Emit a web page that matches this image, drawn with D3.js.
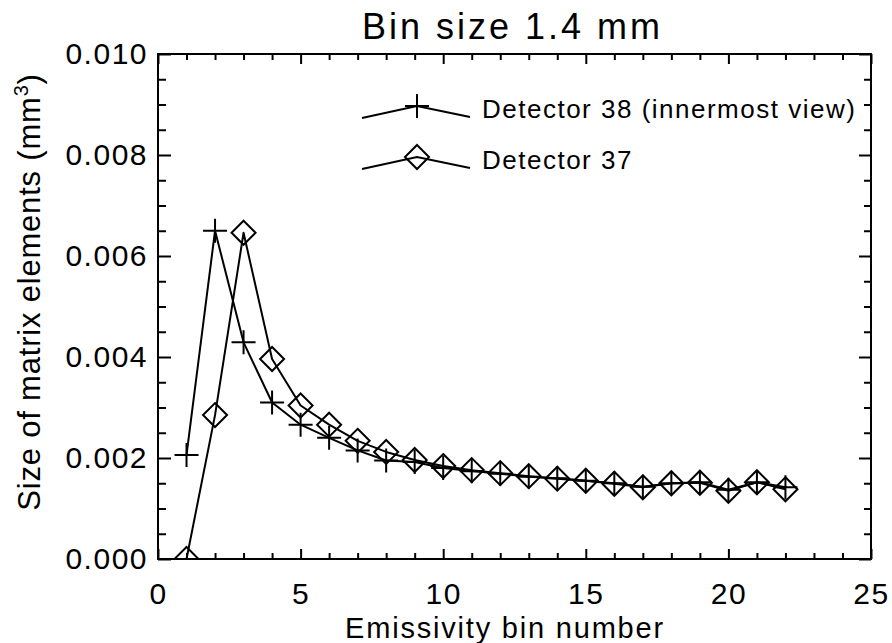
<!DOCTYPE html>
<html>
<head>
<meta charset="utf-8">
<script src="https://cdn.jsdelivr.net/npm/d3@7"></script>
<style>
  body { margin: 0; background: #fff; }
  svg text { font-family: "Liberation Sans", Arial, sans-serif; fill: #000; }
</style>
</head>
<body>
<div id="chart"></div>
<script>
// 1: DATA
const binNumber = [1, 2, 3, 4, 5, 6, 7, 8, 9, 10, 11, 12, 13, 14, 15, 16, 17, 18, 19, 20, 21, 22];
const det38 = [0.00206, 0.0065, 0.00429, 0.0031, 0.00266, 0.0024, 0.00215, 0.00195, 0.00192, 0.0018, 0.00174,
               0.00169, 0.00163, 0.0016, 0.00155, 0.0015, 0.00143, 0.0015, 0.00152, 0.00137, 0.00152, 0.00142];
const det37 = [0.0, 0.00285, 0.00646, 0.00396, 0.00304, 0.00266, 0.00234, 0.00212, 0.00196, 0.00184, 0.00176,
               0.0017, 0.00164, 0.00159, 0.00155, 0.00149, 0.00142, 0.0015, 0.00151, 0.00135, 0.00152, 0.00138];
const seriesNames = ["Detector 38 (innermost view)", "Detector 37"];
const xTicks = [0, 5, 10, 15, 20, 25];
const yTicks = [0, 0.002, 0.004, 0.006, 0.008, 0.010];

// 2: LAYOUT
const W = 892, H = 643;
const plot = { left: 158, right: 871, top: 54, bottom: 559 };

const svg = d3.select("#chart").append("svg")
    .attr("width", W)
    .attr("height", H);

const x = d3.scaleLinear().domain([0, 25]).range([plot.left, plot.right]);
const y = d3.scaleLinear().domain([0, 0.010]).range([plot.bottom, plot.top]);

const xMinor = d3.range(0, 26, 1).filter(v => v % 5 !== 0);
const yMinor = d3.range(0, 0.0101, 0.0005).filter((v, i) => i % 4 !== 0);

// 3: AXES (ticks inward on all four sides)
function styleAxis(g) {
    g.select(".domain").remove();
    g.selectAll(".tick line").attr("stroke", "#000").attr("stroke-width", 2);
}

// bottom
svg.append("g")
    .attr("transform", `translate(0,${plot.bottom})`)
    .call(d3.axisBottom(x).tickValues(xTicks).tickSize(-10).tickPadding(24).tickFormat(d3.format("d")))
    .call(styleAxis)
    .call(g => g.selectAll("text")
        .attr("font-size", 30)
        .attr("letter-spacing", 1.5)
        .attr("font-family", "Liberation Sans, Arial, sans-serif"));
svg.append("g")
    .attr("transform", `translate(0,${plot.bottom})`)
    .call(d3.axisBottom(x).tickValues(xMinor).tickSize(-6).tickFormat(""))
    .call(styleAxis);

// top
svg.append("g")
    .attr("transform", `translate(0,${plot.top})`)
    .call(d3.axisTop(x).tickValues(xTicks).tickSize(-10).tickFormat(""))
    .call(styleAxis);
svg.append("g")
    .attr("transform", `translate(0,${plot.top})`)
    .call(d3.axisTop(x).tickValues(xMinor).tickSize(-6).tickFormat(""))
    .call(styleAxis);

// left
svg.append("g")
    .attr("transform", `translate(${plot.left},0)`)
    .call(d3.axisLeft(y).tickValues(yTicks).tickSize(-13).tickPadding(10).tickFormat(d3.format(".3f")))
    .call(styleAxis)
    .call(g => g.selectAll("text")
        .attr("font-size", 30)
        .attr("letter-spacing", 1.5)
        .attr("dy", "0.30em")
        .attr("font-family", "Liberation Sans, Arial, sans-serif"));
svg.append("g")
    .attr("transform", `translate(${plot.left},0)`)
    .call(d3.axisLeft(y).tickValues(yMinor).tickSize(-8).tickFormat(""))
    .call(styleAxis);

// right
svg.append("g")
    .attr("transform", `translate(${plot.right},0)`)
    .call(d3.axisRight(y).tickValues(yTicks).tickSize(-12).tickFormat(""))
    .call(styleAxis);
svg.append("g")
    .attr("transform", `translate(${plot.right},0)`)
    .call(d3.axisRight(y).tickValues(yMinor).tickSize(-7).tickFormat(""))
    .call(styleAxis);

// frame
svg.append("rect")
    .attr("x", plot.left)
    .attr("y", plot.top)
    .attr("width", plot.right - plot.left)
    .attr("height", plot.bottom - plot.top)
    .attr("fill", "none")
    .attr("stroke", "#000")
    .attr("stroke-width", 2);

// 4: PLOT DATA
svg.append("clipPath").attr("id", "plotClip")
    .append("rect")
    .attr("x", plot.left).attr("y", plot.top)
    .attr("width", plot.right - plot.left).attr("height", plot.bottom - plot.top);

const plusPath = "M-12,0H12M0,-12V12";
const diamondPath = "M0,-12L12,0L0,12L-12,0Z";

const series = [
    { name: seriesNames[0], values: det38, marker: plusPath },
    { name: seriesNames[1], values: det37, marker: diamondPath }
];

const line = d3.line()
    .x(d => x(d[0]))
    .y(d => y(d[1]));

const dataG = svg.append("g").attr("clip-path", "url(#plotClip)");

series.forEach(s => {
    const pts = binNumber.map((b, i) => [b, s.values[i]]);
    dataG.append("path")
        .datum(pts)
        .attr("fill", "none")
        .attr("stroke", "#000")
        .attr("stroke-width", 2)
        .attr("stroke-linejoin", "round")
        .attr("d", line);
    dataG.selectAll(null)
        .data(pts)
        .enter()
        .append("path")
        .attr("transform", d => `translate(${x(d[0])},${y(d[1])})`)
        .attr("d", s.marker)
        .attr("fill", "none")
        .attr("stroke", "#000")
        .attr("stroke-width", 2);
});

// 5: LEGEND
const legend = svg.append("g").attr("transform", "translate(362,0)");
series.forEach((s, i) => {
    const y0 = 118 + i * 51;
    legend.append("path")
        .attr("d", `M0,${y0}L55,${y0 - 12}L108,${y0 - 1}`)
        .attr("fill", "none")
        .attr("stroke", "#000")
        .attr("stroke-width", 2);
    legend.append("path")
        .attr("transform", `translate(55,${y0 - 12})`)
        .attr("d", s.marker)
        .attr("fill", "none")
        .attr("stroke", "#000")
        .attr("stroke-width", 2);
    legend.append("text")
        .attr("x", 120)
        .attr("y", y0)
        .attr("font-size", 26)
        .attr("letter-spacing", 1.5)
        .text(s.name);
});

// 6: LABELS
svg.append("text")
    .attr("x", (plot.left + plot.right) / 2 - 2)
    .attr("y", 39)
    .attr("text-anchor", "middle")
    .attr("font-size", 36)
    .attr("letter-spacing", 3)
    .text("Bin size 1.4 mm");

svg.append("text")
    .attr("x", 505)
    .attr("y", 638)
    .attr("text-anchor", "middle")
    .attr("font-size", 29)
    .attr("letter-spacing", 1.8)
    .text("Emissivity bin number");

const yLab = svg.append("text")
    .attr("transform", "translate(40,292) rotate(-90)")
    .attr("text-anchor", "middle")
    .attr("font-size", 31)
    .attr("letter-spacing", 0.8);
yLab.append("tspan").text("Size of matrix elements (mm");
yLab.append("tspan").attr("dy", -12).attr("font-size", 20).text("3");
yLab.append("tspan").attr("dy", 12).text(")");
</script>
</body>
</html>
